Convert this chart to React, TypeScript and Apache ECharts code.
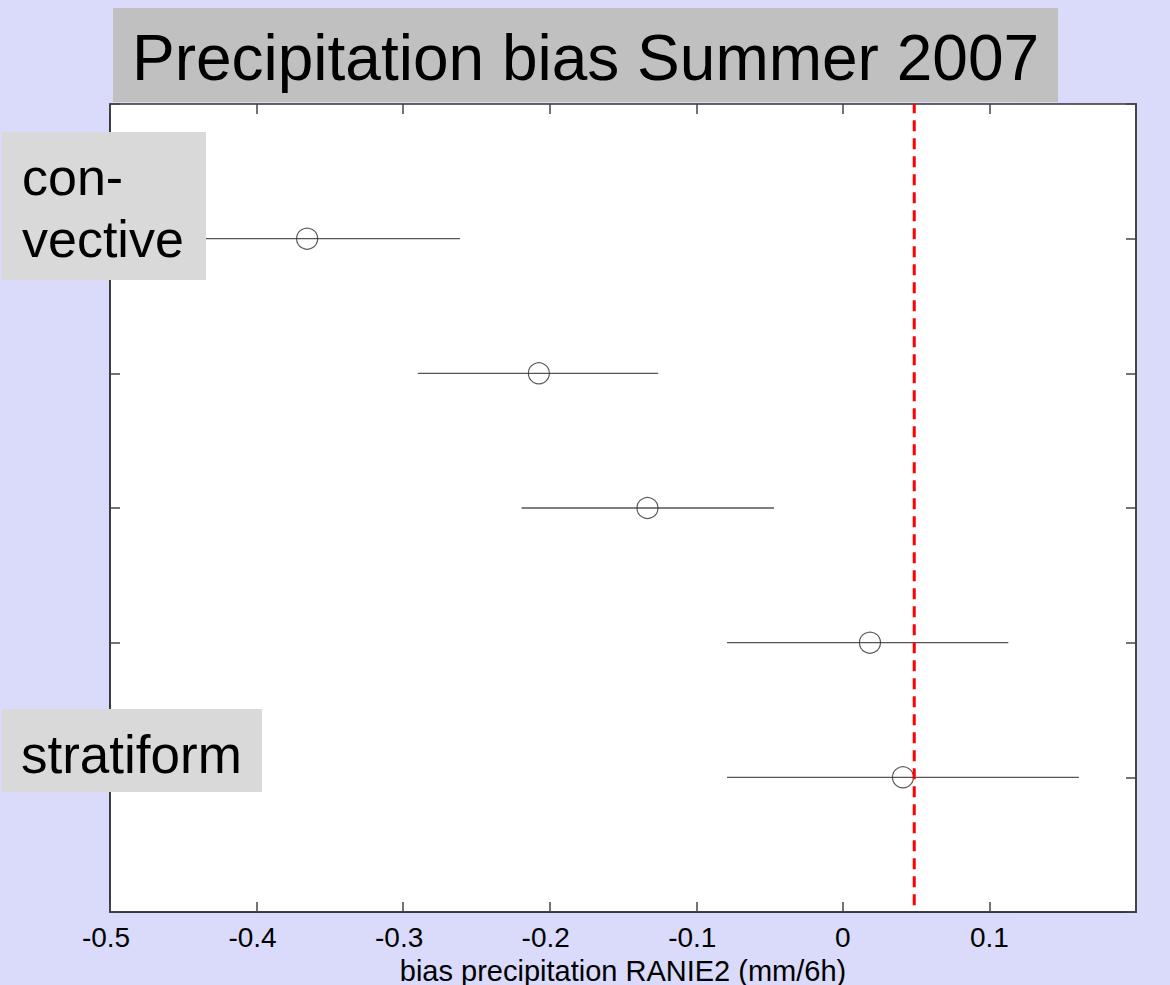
import React, { useEffect, useRef } from "react";
import * as echarts from "echarts";

const titleText = "Precipitation bias Summer 2007";
const xAxisName = "bias precipitation RANIE2 (mm/6h)";
const rowY = [5, 4, 3, 2, 1];
const centers = [-0.3655, -0.2074, -0.1333, 0.0185, 0.041];
const lows = [-0.469, -0.29, -0.2192, -0.079, -0.079];
const highs = [-0.2613, -0.126, -0.047, 0.1129, 0.161];
const refX = 0.0487;
const xMin = -0.5;
const xMax = 0.2;
const xStep = 0.1;
const yMin = 0;
const yMax = 6;

const FONT = "'Liberation Sans', Arial, Helvetica, sans-serif";

export default function App() {
  const ref = useRef<HTMLDivElement>(null);
  useEffect(() => {
    document.body.style.margin = "0";
    document.body.style.overflow = "hidden";
    const chart = echarts.init(ref.current!, undefined, { renderer: "svg" });
    const fmt = (v: number) => {
      if (v > 0.15) return "";
      const r = Math.round(v * 10) / 10;
      return r < 0 ? `{neg|${r}}` : `{pos|${r}}`;
    };
    const tickStyle = { show: true, inside: true, length: 10, lineStyle: { color: "#444", width: 1.5 } };
    const errData = centers.map((c, i) => [lows[i], highs[i], rowY[i]]);
    const ptData = centers.map((c, i) => [c, rowY[i]]);
    chart.setOption({
      animation: false,
      backgroundColor: "#dadafa",
      textStyle: { fontFamily: FONT },
      grid: {
        left: 110,
        right: 34,
        top: 104,
        bottom: 73,
        show: true,
        backgroundColor: "#ffffff",
        borderWidth: 0,
        outerBoundsMode: "none",
        containLabel: false,
      },
      xAxis: [
        {
          type: "value",
          min: xMin,
          max: xMax,
          interval: xStep,
          position: "bottom",
          splitLine: { show: false },
          axisLine: { show: true, onZero: false, lineStyle: { color: "#000", width: 1.5 } },
          axisTick: tickStyle,
          axisLabel: {
            formatter: fmt,
            color: "#000",
            fontSize: 28,
            fontFamily: FONT,
            margin: 11,
            rich: {
              neg: { fontSize: 28, fontFamily: FONT, color: "#000", padding: [0, 8, 0, 0] },
              pos: { fontSize: 28, fontFamily: FONT, color: "#000" },
            },
          },
          name: xAxisName,
          nameLocation: "middle",
          nameGap: 39,
          nameTextStyle: { color: "#000", fontSize: 29, lineHeight: 30, fontFamily: FONT },
        },
        {
          type: "value",
          min: xMin,
          max: xMax,
          interval: xStep,
          position: "top",
          splitLine: { show: false },
          axisLine: { show: true, onZero: false, lineStyle: { color: "#333", width: 1.5 } },
          axisTick: tickStyle,
          axisLabel: { show: false },
        },
      ],
      yAxis: [
        {
          type: "value",
          min: yMin,
          max: yMax,
          interval: 1,
          position: "left",
          splitLine: { show: false },
          axisLine: { show: true, onZero: false, lineStyle: { color: "#000", width: 1.5 } },
          axisTick: tickStyle,
          axisLabel: { show: false },
        },
        {
          type: "value",
          min: yMin,
          max: yMax,
          interval: 1,
          position: "right",
          splitLine: { show: false },
          axisLine: { show: true, onZero: false, lineStyle: { color: "#444", width: 2 } },
          axisTick: tickStyle,
          axisLabel: { show: false },
        },
      ],
      series: [
        {
          type: "custom",
          xAxisIndex: 0,
          yAxisIndex: 0,
          z: 2,
          encode: { x: [0, 1], y: 2 },
          data: errData,
          renderItem: (params: any, api: any) => {
            const p1 = api.coord([api.value(0), api.value(2)]);
            const p2 = api.coord([api.value(1), api.value(2)]);
            return {
              type: "line",
              shape: { x1: p1[0], y1: p1[1], x2: p2[0], y2: p2[1] },
              style: { stroke: "#555", lineWidth: 1.4 },
            };
          },
        },
        {
          type: "scatter",
          xAxisIndex: 0,
          yAxisIndex: 0,
          z: 3,
          symbol: "circle",
          symbolSize: 21,
          data: ptData,
          itemStyle: { color: "rgba(255,255,255,0)", borderColor: "#333", borderWidth: 1.2 },
        },
        {
          type: "line",
          xAxisIndex: 0,
          yAxisIndex: 0,
          z: 4,
          showSymbol: false,
          symbol: "none",
          data: [
            [refX, 0.05],
            [refX, yMax],
          ],
          lineStyle: { color: "#ff0000", width: 3, type: [11, 7] },
        },
      ],
      graphic: [
        {
          type: "rect",
          z: 100,
          shape: { x: 113, y: 8, width: 945, height: 94 },
          style: { fill: "#c0c0c0" },
        },
        {
          type: "text",
          z: 101,
          x: 585.5,
          y: 58,
          style: {
            text: titleText,
            fill: "#000",
            font: `64px ${FONT}`,
            textAlign: "center",
            textVerticalAlign: "middle",
          },
        },
        {
          type: "rect",
          z: 100,
          shape: { x: 2, y: 132, width: 204, height: 148 },
          style: { fill: "#d9d9d9" },
        },
        {
          type: "text",
          z: 101,
          x: 22,
          y: 177,
          style: { text: "con-", fill: "#000", font: `52px ${FONT}`, textAlign: "left", textVerticalAlign: "middle" },
        },
        {
          type: "text",
          z: 101,
          x: 22,
          y: 239,
          style: { text: "vective", fill: "#000", font: `52px ${FONT}`, textAlign: "left", textVerticalAlign: "middle" },
        },
        {
          type: "rect",
          z: 100,
          shape: { x: 2, y: 709, width: 260, height: 83 },
          style: { fill: "#d9d9d9" },
        },
        {
          type: "text",
          z: 101,
          x: 21,
          y: 754,
          style: { text: "stratiform", fill: "#000", font: `53px ${FONT}`, textAlign: "left", textVerticalAlign: "middle" },
        },
      ],
    });
    return () => chart.dispose();
  }, []);
  return <div ref={ref} style={{ position: "absolute", left: 0, top: 0, width: 1170, height: 985 }} />;
}
